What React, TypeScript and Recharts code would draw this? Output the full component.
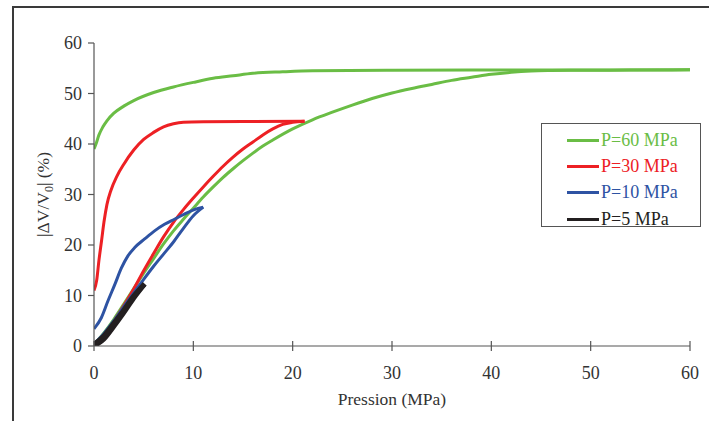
import React from 'react';
import { LineChart, Line, XAxis, YAxis, Legend, Label } from 'recharts';

interface Pt {
  p: number; // pression (MPa)
  v: number; // |dV/V0| (%)
}

const pressureTicks = [0, 10, 20, 30, 40, 50, 60];
const volumeTicks = [0, 10, 20, 30, 40, 50, 60];

// loading branches
const p60Load: Pt[] = [
  { p: 0, v: 0.3 }, { p: 1, v: 2.6 }, { p: 2, v: 5.3 }, { p: 3, v: 8.3 }, { p: 4, v: 11.4 },
  { p: 5, v: 14.4 }, { p: 6, v: 17.3 }, { p: 7, v: 20.2 }, { p: 8, v: 22.8 }, { p: 9, v: 25.1 },
  { p: 10, v: 27.3 }, { p: 11, v: 29.5 }, { p: 12, v: 31.5 }, { p: 13, v: 33.4 }, { p: 14, v: 35.1 },
  { p: 15, v: 36.7 }, { p: 16, v: 38.2 }, { p: 17, v: 39.6 }, { p: 18, v: 40.8 }, { p: 20, v: 43.0 },
  { p: 22, v: 44.8 }, { p: 24, v: 46.3 }, { p: 26, v: 47.7 }, { p: 28, v: 49.0 }, { p: 30, v: 50.1 },
  { p: 32, v: 51.0 }, { p: 34, v: 51.8 }, { p: 36, v: 52.6 }, { p: 38, v: 53.2 }, { p: 40, v: 53.8 },
  { p: 42, v: 54.2 }, { p: 44, v: 54.45 }, { p: 46, v: 54.55 }, { p: 48, v: 54.6 }, { p: 52, v: 54.62 },
  { p: 56, v: 54.65 }, { p: 60, v: 54.7 },
];
const p30Load: Pt[] = [
  { p: 0, v: 0 }, { p: 1, v: 2.2 }, { p: 2, v: 4.9 }, { p: 3, v: 8.0 }, { p: 4, v: 11.3 },
  { p: 5, v: 14.9 }, { p: 6, v: 18.3 }, { p: 7, v: 21.6 }, { p: 8, v: 24.5 }, { p: 9, v: 27.0 },
  { p: 10, v: 29.3 }, { p: 11, v: 31.5 }, { p: 12, v: 33.6 }, { p: 13, v: 35.6 }, { p: 14, v: 37.4 },
  { p: 15, v: 39.0 }, { p: 16, v: 40.4 }, { p: 17, v: 41.8 }, { p: 18, v: 43.0 }, { p: 19, v: 43.9 },
  { p: 20, v: 44.3 }, { p: 21.2, v: 44.5 },
];
const p10Load: Pt[] = [
  { p: 0, v: 0.4 }, { p: 1, v: 2.5 }, { p: 2, v: 5.0 }, { p: 3, v: 7.8 }, { p: 4, v: 10.5 },
  { p: 5, v: 13.2 }, { p: 6, v: 15.8 }, { p: 7, v: 18.2 }, { p: 8, v: 20.6 }, { p: 9, v: 23.3 },
  { p: 10, v: 25.8 }, { p: 11, v: 27.5 },
];
const p5Load: Pt[] = [
  { p: 0, v: 0 }, { p: 1, v: 1.4 }, { p: 2, v: 3.9 }, { p: 3, v: 6.6 }, { p: 4, v: 9.5 }, { p: 5.1, v: 12.3 },
];

// unloading branches (listed from 0 MPa up to the peak)
const p60Unload: Pt[] = [
  { p: 0, v: 39.0 }, { p: 0.2, v: 40.0 }, { p: 0.5, v: 41.8 }, { p: 0.9, v: 43.4 }, { p: 1.3, v: 44.6 },
  { p: 2, v: 46.1 }, { p: 3, v: 47.5 }, { p: 4, v: 48.6 }, { p: 6, v: 50.2 }, { p: 8, v: 51.3 },
  { p: 10, v: 52.2 }, { p: 12, v: 53.0 }, { p: 14, v: 53.5 }, { p: 16, v: 54.0 }, { p: 19, v: 54.3 },
  { p: 22, v: 54.5 }, { p: 30, v: 54.6 }, { p: 45, v: 54.65 }, { p: 60, v: 54.7 },
];
const p30Unload: Pt[] = [
  { p: 0, v: 11.0 }, { p: 0.27, v: 13.0 }, { p: 0.5, v: 17.0 }, { p: 0.77, v: 21.0 }, { p: 1.0, v: 24.5 },
  { p: 1.3, v: 28.0 }, { p: 1.7, v: 30.8 }, { p: 2.3, v: 33.6 }, { p: 3, v: 36.0 }, { p: 4, v: 38.8 },
  { p: 5, v: 40.9 }, { p: 6, v: 42.3 }, { p: 7, v: 43.4 }, { p: 8, v: 44.0 }, { p: 9, v: 44.3 },
  { p: 11, v: 44.4 }, { p: 15, v: 44.45 }, { p: 21.2, v: 44.5 },
];
const p10Unload: Pt[] = [
  { p: 0, v: 3.4 }, { p: 0.74, v: 5.6 }, { p: 1.4, v: 8.9 }, { p: 2.1, v: 12.2 }, { p: 2.75, v: 15.4 },
  { p: 3.4, v: 17.8 }, { p: 4.1, v: 19.5 }, { p: 5.1, v: 21.2 }, { p: 6.1, v: 22.8 }, { p: 7.1, v: 24.1 },
  { p: 8.1, v: 25.1 }, { p: 9.1, v: 26.1 }, { p: 10.1, v: 27.0 }, { p: 11, v: 27.5 },
];
const p5Unload: Pt[] = [
  { p: 0, v: 0.3 }, { p: 1, v: 2.0 }, { p: 2, v: 4.5 }, { p: 3, v: 7.1 }, { p: 4, v: 9.9 }, { p: 5.1, v: 12.3 },
];

const seriesNames = ['P=60 MPa', 'P=30 MPa', 'P=10 MPa', 'P=5 MPa'];
const loadBranches = [p60Load, p30Load, p10Load, p5Load];
const unloadBranches = [p60Unload, p30Unload, p10Unload, p5Unload];

const COLORS = ['#6abd45', '#ed2024', '#2e53a3', '#231f20'];
const WIDTHS = [3, 3, 3, 5];
const FONT = '"Liberation Serif", "Times New Roman", serif';
const AXIS = '#555';

const XTick = (props: any) => {
  const { x, y, payload } = props;
  return (
    <g>
      <line x1={x} x2={x} y1={y - 5} y2={y + 5} stroke={AXIS} strokeWidth={1.2} />
      <text x={x} y={y + 33} textAnchor="middle" fontFamily={FONT} fontSize={18} fill="#333">
        {payload.value}
      </text>
    </g>
  );
};

const YTick = (props: any) => {
  const { x, y, payload } = props;
  return (
    <g>
      <line x1={x - 6} x2={x} y1={y} y2={y} stroke={AXIS} strokeWidth={1.2} />
      <text x={x - 12} y={y + 6} textAnchor="end" fontFamily={FONT} fontSize={18} fill="#333">
        {payload.value}
      </text>
    </g>
  );
};

const YTitle = (props: any) => {
  const { viewBox } = props;
  const cx = viewBox.x + 49;
  const cy = viewBox.y + viewBox.height / 2;
  return (
    <text
      x={cx}
      y={cy}
      transform={`rotate(-90, ${cx}, ${cy})`}
      textAnchor="middle"
      fontFamily={FONT}
      fontSize={17.5}
      fill="#333"
    >
      |ΔV/V
      <tspan dy={4} fontSize={12}>0</tspan>
      <tspan dy={-4}>| (%)</tspan>
    </text>
  );
};

const renderLegend = () => (
  <div
    style={{
      border: '1.5px solid #555',
      background: '#fff',
      width: 160,
      height: 104,
      boxSizing: 'border-box',
      paddingTop: 3,
      fontFamily: FONT,
      fontSize: 18,
    }}
  >
    {seriesNames.map((name, i) => (
      <div key={name} style={{ display: 'flex', alignItems: 'center', height: 26.3 }}>
        <div style={{ marginLeft: 25, width: 32, height: 3, background: COLORS[i] }} />
        <span style={{ marginLeft: 2, color: COLORS[i] }}>{name}</span>
      </div>
    ))}
  </div>
);

export default function App() {
  return (
    <div
      style={{
        position: 'fixed',
        left: 0,
        top: 0,
        width: 709,
        height: 421,
        overflow: 'hidden',
        background: '#fff',
      }}
    >
      <div
        style={{
          position: 'absolute',
          left: 12,
          top: 6,
          width: 800,
          height: 500,
          border: '2px solid #3a3a3a',
        }}
      />
      <div style={{ position: 'absolute', left: 0, top: 0 }}>
        <LineChart width={709} height={421} margin={{ top: 43, right: 19, bottom: 15, left: 0 }}>
          <XAxis
            type="number"
            dataKey="p"
            domain={[0, 60]}
            ticks={pressureTicks}
            allowDataOverflow
            height={60}
            tickSize={0}
            tickMargin={0}
            tickLine={false}
            tick={<XTick />}
            axisLine={{ stroke: AXIS, strokeWidth: 1.2 }}
          >
            <Label
              value="Pression (MPa)"
              position="insideBottom"
              offset={1}
              style={{ fontFamily: FONT, fontSize: 17.5, fill: '#333' }}
            />
          </XAxis>
          <YAxis
            type="number"
            dataKey="v"
            domain={[0, 60]}
            ticks={volumeTicks}
            allowDataOverflow
            width={94}
            tickSize={0}
            tickMargin={0}
            tickLine={false}
            tick={<YTick />}
            axisLine={{ stroke: AXIS, strokeWidth: 1.2 }}
            label={<YTitle />}
          />
          {seriesNames.map((name, i) => (
            <Line
              key={name + '-load'}
              name={name}
              data={loadBranches[i]}
              dataKey="v"
              type="monotone"
              stroke={COLORS[i]}
              strokeWidth={WIDTHS[i]}
              strokeLinejoin="round"
              dot={false}
              activeDot={false}
              isAnimationActive={false}
            />
          ))}
          {seriesNames.map((name, i) => (
            <Line
              key={name + '-unload'}
              name={name}
              data={unloadBranches[i]}
              dataKey="v"
              type="monotone"
              stroke={COLORS[i]}
              strokeWidth={WIDTHS[i]}
              strokeLinejoin="round"
              dot={false}
              activeDot={false}
              legendType="none"
              isAnimationActive={false}
            />
          ))}
          <Legend
            layout="vertical"
            align="center"
            verticalAlign="middle"
            content={renderLegend}
            wrapperStyle={{ left: 541, top: 123, width: 160, height: 104 }}
          />
        </LineChart>
      </div>
    </div>
  );
}
